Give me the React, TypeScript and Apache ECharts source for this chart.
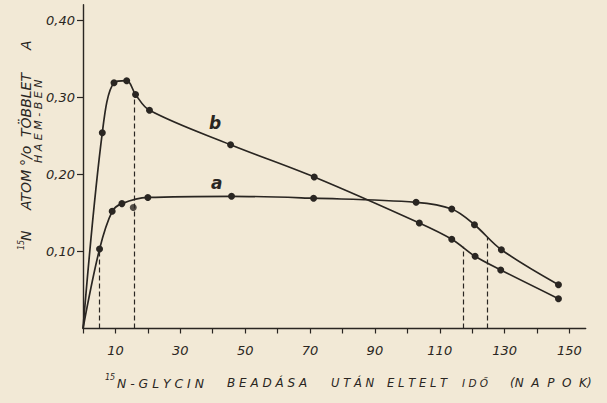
import React, { useEffect, useRef } from "react";
import * as echarts from "echarts";

// Curve a (lower at first, upper at the end)
const daysA = [0, 5.1, 9.0, 12.0, 20.0, 45.8, 71.1, 102.7, 113.7, 120.7, 129.0, 146.6];
const valuesA = [0, 0.103, 0.152, 0.162, 0.170, 0.1715, 0.169, 0.1637, 0.155, 0.1346, 0.1022, 0.0568];
// Curve b (peaked)
const daysB = [0, 5.95, 9.56, 13.47, 16.2, 20.5, 45.5, 71.3, 103.7, 113.7, 120.9, 128.8, 146.6];
const valuesB = [0, 0.254, 0.3188, 0.3214, 0.3035, 0.2831, 0.2384, 0.1965, 0.1368, 0.1157, 0.0936, 0.0759, 0.0387];
// Off-curve point of a
const strayDays = [15.5];
const strayValues = [0.157];
// Dashed drop lines
const dropDays = [5.1, 15.7, 117.1, 124.5];
const dropTops = [0.103, 0.3035, 0.106, 0.118];
// Curve labels
const labelNames = ["a", "b"];
const labelDays = [41.2, 40.7];
const labelValues = [0.1883, 0.2665];
// Axis ticks
const xTicks = [0, 10, 20, 30, 40, 50, 60, 70, 80, 90, 100, 110, 120, 130, 140, 150];
const xLabels = [10, 30, 50, 70, 90, 110, 130, 150];
const yTicks = [0.1, 0.2, 0.3, 0.4];

const INK = "#2a2622";
const BG = "#f2e9d6";
const FONT = "DejaVu Sans";

export default function App() {
  const ref = useRef<HTMLDivElement>(null);

  useEffect(() => {
    if (!ref.current) return;
    const chart = echarts.init(ref.current, null, { renderer: "svg" });

    const lineData = (days: number[], vals: number[]) =>
      days.map((d, i) =>
        i === 0 ? { value: [d, vals[i]], symbol: "none" } : { value: [d, vals[i]] }
      );

    const mkLabel = (idx: number) => ({
      symbol: "circle",
      symbolSize: 0,
      silent: true,
      data: [
        {
          coord: [labelDays[idx], labelValues[idx]],
          label: {
            show: true,
            formatter: labelNames[idx],
            position: "inside",
            color: INK,
            fontFamily: FONT,
            fontStyle: "italic",
            fontWeight: "bold",
            fontSize: 17,
          },
        },
      ],
    });

    const txt = (s: string, x: number, y: number, size = 12) => ({
      type: "text",
      x,
      y,
      silent: true,
      style: {
        text: s,
        fill: INK,
        fontSize: size,
        fontFamily: FONT,
        fontStyle: "italic",
        align: "left",
        verticalAlign: "middle",
      },
    });

    const sp = (w: string, gap = "\u00a0") => w.split("").join(gap);

    const option: any = {
      animation: false,
      backgroundColor: BG,
      grid: { left: 83, right: 21.3, top: 4.7, bottom: 74.5, containLabel: false },
      xAxis: {
        type: "value",
        min: 0,
        max: 155,
        interval: 10,
        axisLine: { show: true, lineStyle: { color: INK, width: 1.4 } },
        axisTick: { show: true, customValues: xTicks, length: 5, lineStyle: { color: INK, width: 1.2 } },
        axisLabel: {
          customValues: xLabels,
          margin: 15,
          color: INK,
          fontFamily: FONT,
          fontStyle: "italic",
          fontSize: 13,
        },
        splitLine: { show: false },
      },
      yAxis: {
        type: "value",
        min: 0,
        max: 0.42,
        interval: 0.1,
        axisLine: { show: true, lineStyle: { color: INK, width: 1.4 } },
        axisTick: { show: true, customValues: yTicks, length: 6, lineStyle: { color: INK, width: 1.2 } },
        axisLabel: {
          customValues: yTicks,
          margin: 8,
          color: INK,
          fontFamily: FONT,
          fontStyle: "italic",
          fontSize: 13,
          formatter: (v: number) => v.toFixed(2).replace(".", ","),
        },
        splitLine: { show: false },
      },
      series: [
        {
          name: "a",
          type: "line",
          data: lineData(daysA, valuesA),
          smooth: 0.35,
          symbol: "circle",
          symbolSize: 7,
          lineStyle: { color: INK, width: 1.7 },
          itemStyle: { color: INK },
          markPoint: mkLabel(0),
          markLine: {
            silent: true,
            symbol: "none",
            label: { show: false },
            lineStyle: { color: INK, width: 1.2, type: [5, 3] },
            data: dropDays.map((d, i) => [{ coord: [d, 0] }, { coord: [d, dropTops[i]] }]),
          },
        },
        {
          name: "b",
          type: "line",
          data: lineData(daysB, valuesB),
          smooth: 0.35,
          symbol: "circle",
          symbolSize: 7,
          lineStyle: { color: INK, width: 1.7 },
          itemStyle: { color: INK },
          markPoint: mkLabel(1),
        },
        {
          name: "a-stray",
          type: "scatter",
          data: strayDays.map((d, i) => [d, strayValues[i]]),
          symbol: "circle",
          symbolSize: 7,
          itemStyle: { color: INK },
        },
      ],
      graphic: [
        // Y axis title, line 1 (rotated, reading upward)
        {
          type: "group",
          x: 26,
          y: 250,
          rotation: Math.PI / 2,
          silent: true,
          children: [
            txt("15", 0, -5, 8),
            txt("N", 9, 0, 14),
            txt("ATOM", 40, 0, 14),
            txt("°/o", 84, 0, 14),
            txt("TÖBBLET", 113, 0, 14),
            txt("A", 200, 0, 14),
          ],
        },
        // Y axis title, line 2
        {
          type: "group",
          x: 38.5,
          y: 163,
          rotation: Math.PI / 2,
          silent: true,
          children: [txt(sp("HAEM-BEN"), 0, 0, 11)],
        },
        // X axis title
        txt("15", 105, 377, 8),
        txt(sp("N-GLYCIN"), 117, 383, 12.4),
        txt(sp("BEADÁSA"), 227, 383, 12),
        txt(sp("UTÁN"), 331, 383, 11.6),
        txt(sp("ELTELT"), 387, 383, 11.6),
        txt(sp("IDŐ"), 462, 383, 10.5),
        txt("(" + sp("NAPOK", "\u00a0\u00a0") + ")", 510, 383, 12),
      ],
    };

    chart.setOption(option);
    return () => chart.dispose();
  }, []);

  return (
    <div
      ref={ref}
      style={{ position: "fixed", left: 0, top: 0, width: 607, height: 403, background: BG }}
    />
  );
}
